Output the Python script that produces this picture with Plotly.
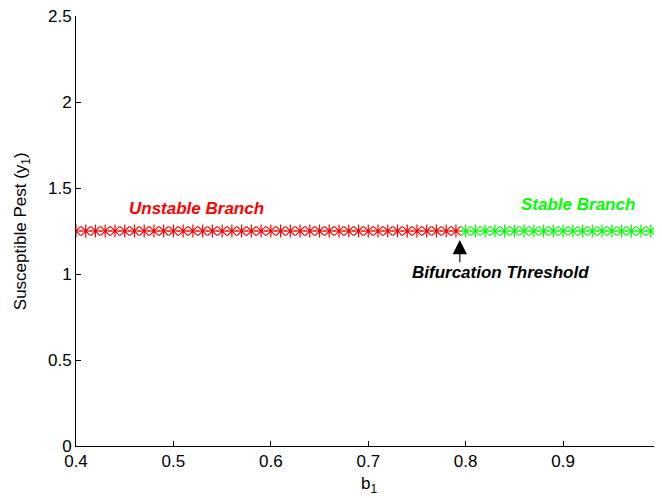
import plotly.graph_objects as go

# Unstable branch (red) values
unstable_b1 = [0.40, 0.41, 0.42, 0.43, 0.44, 0.45, 0.46, 0.47, 0.48, 0.49,
               0.50, 0.51, 0.52, 0.53, 0.54, 0.55, 0.56, 0.57, 0.58, 0.59,
               0.60, 0.61, 0.62, 0.63, 0.64, 0.65, 0.66, 0.67, 0.68, 0.69,
               0.70, 0.71, 0.72, 0.73, 0.74, 0.75, 0.76, 0.77, 0.78, 0.79]
unstable_y1 = [1.25, 1.25, 1.25, 1.25, 1.25, 1.25, 1.25, 1.25, 1.25, 1.25,
               1.25, 1.25, 1.25, 1.25, 1.25, 1.25, 1.25, 1.25, 1.25, 1.25,
               1.25, 1.25, 1.25, 1.25, 1.25, 1.25, 1.25, 1.25, 1.25, 1.25,
               1.25, 1.25, 1.25, 1.25, 1.25, 1.25, 1.25, 1.25, 1.25, 1.25]

# Stable branch (green)
stable_b1 = [0.80, 0.81, 0.82, 0.83, 0.84, 0.85, 0.86, 0.87, 0.88, 0.89,
             0.90, 0.91, 0.92, 0.93, 0.94, 0.95, 0.96, 0.97, 0.98, 0.99]
stable_y1 = [1.25, 1.25, 1.25, 1.25, 1.25, 1.25, 1.25, 1.25, 1.25, 1.25,
             1.25, 1.25, 1.25, 1.25, 1.25, 1.25, 1.25, 1.25, 1.25, 1.25]

x_ticks = [0.4, 0.5, 0.6, 0.7, 0.8, 0.9, 1.0]
x_tick_labels = ["0.4", "0.5", "0.6", "0.7", "0.8", "0.9", "1"]
y_ticks = [0, 0.5, 1, 1.5, 2, 2.5]
y_tick_labels = ["0", "0.5", "1", "1.5", "2", "2.5"]

FONT = "Liberation Sans, Arial, Helvetica, sans-serif"

fig = go.Figure()
fig.add_trace(go.Scatter(
    x=unstable_b1, y=unstable_y1, mode="markers",
    marker=dict(symbol="asterisk-open", size=11, color="#ff0000",
                line=dict(color="#ff0000", width=1.2)),
    showlegend=False, hoverinfo="skip"))
fig.add_trace(go.Scatter(
    x=stable_b1, y=stable_y1, mode="markers",
    marker=dict(symbol="asterisk-open", size=11, color="#00ff00",
                line=dict(color="#00ff00", width=1.2)),
    showlegend=False, hoverinfo="skip"))

fig.add_annotation(x=0.524, y=1.378, xref="x", yref="y", text="<b><i>Unstable Branch</i></b>",
                   showarrow=False, font=dict(family=FONT, size=17, color="#ff0000"))
fig.add_annotation(x=0.915, y=1.405, xref="x", yref="y", text="<b><i>Stable Branch</i></b>",
                   showarrow=False, font=dict(family=FONT, size=17, color="#00ff00"))
fig.add_annotation(x=0.836, y=1.006, xref="x", yref="y", text="<b><i>Bifurcation Threshold</i></b>",
                   showarrow=False, font=dict(family=FONT, size=17, color="#000000"))
fig.add_annotation(x=0.794, y=1.198, xref="x", yref="y", ax=0.794, ay=1.062,
                   axref="x", ayref="y", text=" ", showarrow=True,
                   font=dict(size=1), borderpad=0,
                   arrowhead=2, arrowsize=2.6, arrowwidth=1.1, arrowcolor="#000000")

# axis titles placed in paper coordinates
fig.add_annotation(x=-0.092, y=0.5, xref="paper", yref="paper",
                   xanchor="center", yanchor="middle",
                   text="Susceptible Pest (y<sub>1</sub>)", textangle=-90,
                   showarrow=False, font=dict(family=FONT, size=17, color="black"))
fig.add_annotation(x=0.5, y=-0.09, xref="paper", yref="paper",
                   xanchor="center", yanchor="middle",
                   text="b<sub>1</sub>", showarrow=False,
                   font=dict(family=FONT, size=17, color="black"))

fig.update_layout(
    width=654, height=490,
    margin=dict(l=68, r=1, t=8, b=52),
    paper_bgcolor="white", plot_bgcolor="white",
    font=dict(family=FONT, size=17, color="black"),
    xaxis=dict(range=[0.4, 1.0005], tickvals=x_ticks, ticktext=x_tick_labels,
               showgrid=False, zeroline=False, showline=True, linecolor="black",
               linewidth=1, ticks="inside", ticklen=5, tickcolor="black",
               ticklabeloverflow="allow", tickfont=dict(size=17),
               automargin=False, mirror=False),
    yaxis=dict(range=[0, 2.5], tickvals=y_ticks, ticktext=y_tick_labels,
               showgrid=False, zeroline=False, showline=True, linecolor="black",
               linewidth=1, ticks="inside", ticklen=5, tickcolor="black",
               ticklabeloverflow="allow", tickfont=dict(size=17),
               automargin=False, mirror=False),
)

fig.write_html("out.html")
